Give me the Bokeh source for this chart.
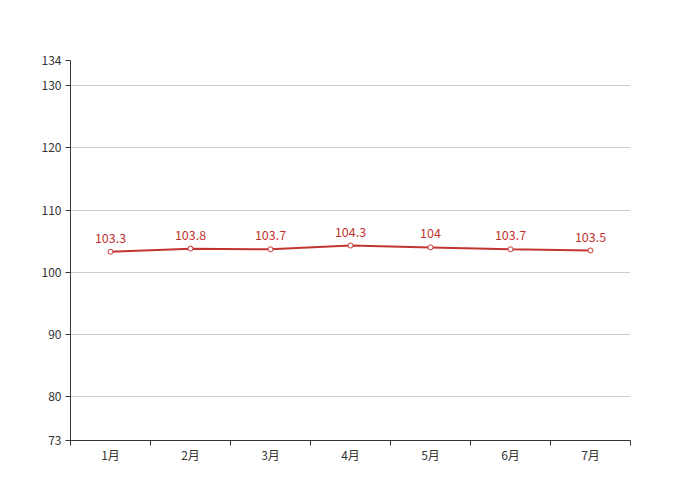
from bokeh.plotting import figure
from bokeh.models import FixedTicker, Range1d, ColumnDataSource
from bokeh.core.properties import value
from bokeh.embed import file_html
from bokeh.resources import INLINE

months = ["1月", "2月", "3月", "4月", "5月", "6月", "7月"]
values = [103.3, 103.8, 103.7, 104.3, 104, 103.7, 103.5]
value_labels = ["103.3", "103.8", "103.7", "104.3", "104", "103.7", "103.5"]
y_ticks = [73, 80, 90, 100, 110, 120, 130, 134]

FONT = "Noto Sans CJK SC"
RED = "#c23531"

xs = [i + 0.5 for i in range(len(months))]
src = ColumnDataSource(dict(x=xs, y=values, lbl=value_labels))

p = figure(width=684, height=484, output_backend="svg", toolbar_location=None,
           x_range=Range1d(0, len(months)), y_range=Range1d(73, 134),
           min_border_left=70, min_border_right=54, min_border_top=60, min_border_bottom=44)
p.outline_line_color = None
p.background_fill_color = "white"

# x axis
p.xaxis.ticker = FixedTicker(ticks=xs, minor_ticks=list(range(len(months) + 1)))
p.xaxis.major_label_overrides = {x: m for x, m in zip(xs, months)}
p.xaxis.major_tick_out = 0
p.xaxis.major_tick_in = 0
p.xaxis.minor_tick_out = 5
p.xaxis.minor_tick_in = 0
p.xaxis.minor_tick_line_color = "#333333"
p.xaxis.axis_line_color = "#333333"
p.xaxis.major_label_text_font = FONT
p.xaxis.major_label_text_font_size = "12px"
p.xaxis.major_label_text_color = "#333333"
p.xaxis.major_label_standoff = 0
p.xgrid.visible = False

# y axis
p.yaxis.ticker = FixedTicker(ticks=y_ticks)
p.yaxis.major_tick_out = 5
p.yaxis.major_tick_in = 0
p.yaxis.minor_tick_line_color = None
p.yaxis.axis_line_color = "#333333"
p.yaxis.major_tick_line_color = "#333333"
p.yaxis.major_label_text_font = FONT
p.yaxis.major_label_text_font_size = "12px"
p.yaxis.major_label_text_color = "#333333"
p.yaxis.major_label_standoff = 4
p.ygrid.ticker = FixedTicker(ticks=y_ticks)
p.ygrid.grid_line_color = "#cccccc"

p.line("x", "y", source=src, line_color=RED, line_width=2)
p.scatter("x", "y", source=src, size=5, fill_color="white", line_color=RED, line_width=1)
p.text("x", "y", text="lbl", source=src, text_color=RED, text_font=value(FONT),
       text_font_size="12.5px", text_align="center", text_baseline="bottom", y_offset=-9)

open("out.html", "w").write(file_html(p, INLINE))
